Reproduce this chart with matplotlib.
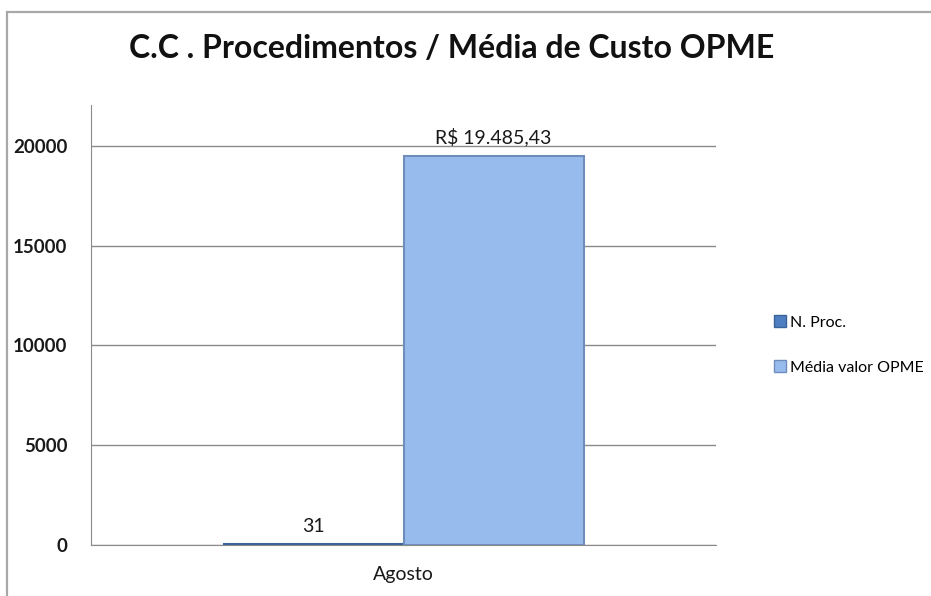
import matplotlib
matplotlib.use("Agg")
import matplotlib.pyplot as plt
from matplotlib.patches import Rectangle, Patch

plt.rcParams['font.family'] = ['Lato', 'DejaVu Sans']

categories = ["Agosto"]
series_names = ["N. Proc.", "Média valor OPME"]
n_proc = [31]
media_opme = [19485.43]
value_labels = [["31"], ["R$ 19.485,43"]]
yticks = [0, 5000, 10000, 15000, 20000]

W, H = 931, 596
fig = plt.figure(figsize=(W / 100, H / 100), dpi=100)

# outer chart border
fig.patches.append(Rectangle((7 / W, -0.1), 1.2, (H - 12) / H + 0.1,
                             transform=fig.transFigure, fill=False,
                             edgecolor="#a8a8a8", linewidth=1.6, zorder=0))

ax = fig.add_axes([91 / W, (H - 545) / H, (716 - 91) / W, (545 - 105) / H])
ax.set_xlim(-0.5, 0.5)
ax.set_ylim(0, 22050)

width = 0.288
colors = ["#4F7FC0", "#98BBEE"]
edges = ["#3A6399", "#6E8DBB"]
for i, (vals, c, ec) in enumerate(zip([n_proc, media_opme], colors, edges)):
    xs = [k + (i - 0.5) * width for k in range(len(categories))]
    bars = ax.bar(xs, vals, width=width, color=c, edgecolor=ec, linewidth=1.5,
                  zorder=3, label=series_names[i])
    for b, lab in zip(bars, value_labels[i]):
        ax.annotate(lab, (b.get_x() + b.get_width() / 2, b.get_height()),
                    xytext=(0, 7), textcoords="offset points",
                    ha="center", va="bottom", fontsize=14, color="#1a1a1a")

ax.set_yticks(yticks)
ax.set_yticklabels([str(v) for v in yticks], fontsize=13.5, fontweight="bold",
                   color="#1a1a1a")
ax.set_xticks(range(len(categories)))
ax.set_xticklabels(categories, fontsize=14, color="#1a1a1a")
ax.tick_params(axis="y", length=0, pad=17)
ax.tick_params(axis="x", length=0, pad=15)
ax.yaxis.grid(True, color="#8a8a8a", linewidth=1)
ax.set_axisbelow(True)
for s in ["top", "right"]:
    ax.spines[s].set_visible(False)
ax.spines["left"].set_color("#8a8a8a")
ax.spines["bottom"].set_color("#8a8a8a")

fig.text(452 / W, (H - 48) / H, "C.C . Procedimentos / Média de Custo OPME",
         ha="center", va="center", fontsize=23, fontweight="bold", color="#111111")

handles = [Patch(facecolor=colors[0], edgecolor=edges[0]),
           Patch(facecolor=colors[1], edgecolor=edges[1])]
fig.legend(handles, series_names, loc="center left",
           bbox_to_anchor=(774 / W, (H - 345) / H), frameon=False,
           fontsize=11.5, handlelength=0.75, handleheight=0.75,
           handletextpad=0.25, labelspacing=1.9, borderaxespad=0,
           borderpad=0)

fig.savefig("out.png", dpi=100)
